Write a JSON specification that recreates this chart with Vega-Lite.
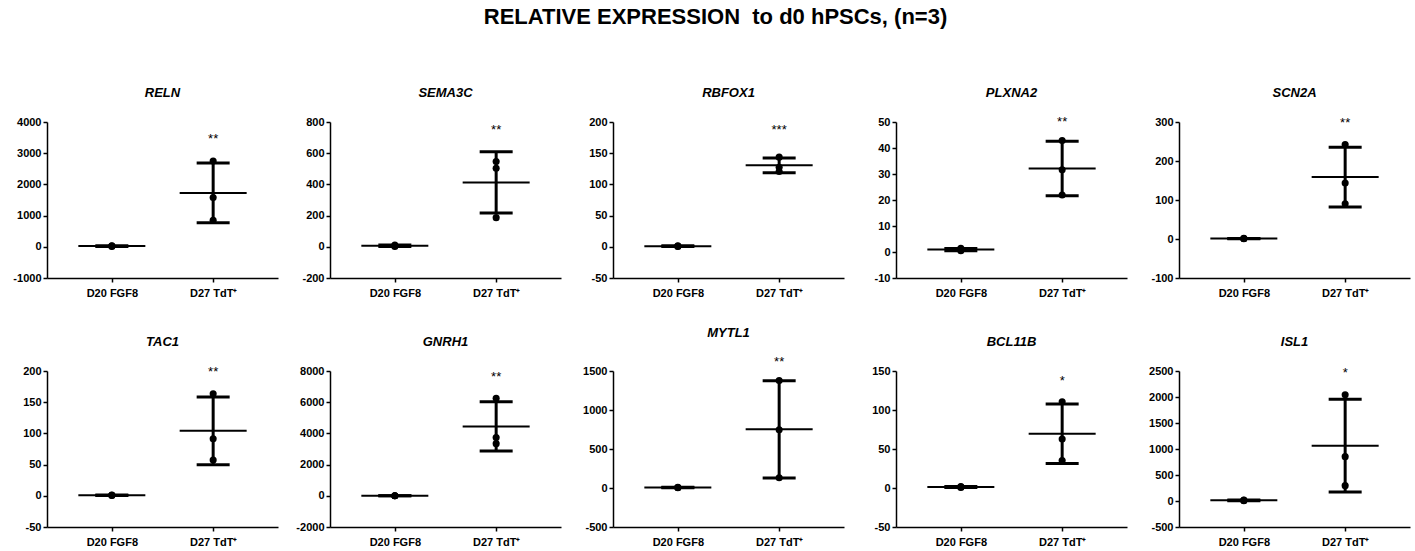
{
"$schema": "https://vega.github.io/schema/vega-lite/v6.json",
"padding": {"left": 9, "top": 6, "right": 5, "bottom": 5},
"title": {"text": "RELATIVE EXPRESSION\u00a0 to d0 hPSCs, (n=3)", "font": "Liberation Sans", "fontSize": 22, "fontStyle": "normal", "fontWeight": "bold", "color": "black", "offset": 58, "anchor": "middle", "dx": 6},
"datasets": {
"pts": [
{"gene": "RELN", "group": "D20 FGF8", "value": 10}, {"gene": "RELN", "group": "D20 FGF8", "value": 22}, {"gene": "RELN", "group": "D20 FGF8", "value": 35},
{"gene": "RELN", "group": "D27 TdT⁺", "value": 2750}, {"gene": "RELN", "group": "D27 TdT⁺", "value": 1580}, {"gene": "RELN", "group": "D27 TdT⁺", "value": 850},
{"gene": "SEMA3C", "group": "D20 FGF8", "value": 2}, {"gene": "SEMA3C", "group": "D20 FGF8", "value": 6}, {"gene": "SEMA3C", "group": "D20 FGF8", "value": 11},
{"gene": "SEMA3C", "group": "D27 TdT⁺", "value": 547}, {"gene": "SEMA3C", "group": "D27 TdT⁺", "value": 504}, {"gene": "SEMA3C", "group": "D27 TdT⁺", "value": 187},
{"gene": "RBFOX1", "group": "D20 FGF8", "value": 0.6}, {"gene": "RBFOX1", "group": "D20 FGF8", "value": 1.0}, {"gene": "RBFOX1", "group": "D20 FGF8", "value": 1.5},
{"gene": "RBFOX1", "group": "D27 TdT⁺", "value": 143.7}, {"gene": "RBFOX1", "group": "D27 TdT⁺", "value": 127.6}, {"gene": "RBFOX1", "group": "D27 TdT⁺", "value": 120.6},
{"gene": "PLXNA2", "group": "D20 FGF8", "value": 0.5}, {"gene": "PLXNA2", "group": "D20 FGF8", "value": 0.9}, {"gene": "PLXNA2", "group": "D20 FGF8", "value": 1.4},
{"gene": "PLXNA2", "group": "D27 TdT⁺", "value": 42.9}, {"gene": "PLXNA2", "group": "D27 TdT⁺", "value": 31.6}, {"gene": "PLXNA2", "group": "D27 TdT⁺", "value": 21.9},
{"gene": "SCN2A", "group": "D20 FGF8", "value": 0.7}, {"gene": "SCN2A", "group": "D20 FGF8", "value": 1.1}, {"gene": "SCN2A", "group": "D20 FGF8", "value": 1.6},
{"gene": "SCN2A", "group": "D27 TdT⁺", "value": 241.9}, {"gene": "SCN2A", "group": "D27 TdT⁺", "value": 143.6}, {"gene": "SCN2A", "group": "D27 TdT⁺", "value": 90.6},
{"gene": "TAC1", "group": "D20 FGF8", "value": 0.5}, {"gene": "TAC1", "group": "D20 FGF8", "value": 0.8}, {"gene": "TAC1", "group": "D20 FGF8", "value": 1.2},
{"gene": "TAC1", "group": "D27 TdT⁺", "value": 163.4}, {"gene": "TAC1", "group": "D27 TdT⁺", "value": 91.4}, {"gene": "TAC1", "group": "D27 TdT⁺", "value": 57.4},
{"gene": "GNRH1", "group": "D20 FGF8", "value": 0.8}, {"gene": "GNRH1", "group": "D20 FGF8", "value": 1.2}, {"gene": "GNRH1", "group": "D20 FGF8", "value": 1.9},
{"gene": "GNRH1", "group": "D27 TdT⁺", "value": 6251}, {"gene": "GNRH1", "group": "D27 TdT⁺", "value": 3738}, {"gene": "GNRH1", "group": "D27 TdT⁺", "value": 3344},
{"gene": "MYTL1", "group": "D20 FGF8", "value": 3}, {"gene": "MYTL1", "group": "D20 FGF8", "value": 6}, {"gene": "MYTL1", "group": "D20 FGF8", "value": 10},
{"gene": "MYTL1", "group": "D27 TdT⁺", "value": 1377}, {"gene": "MYTL1", "group": "D27 TdT⁺", "value": 746}, {"gene": "MYTL1", "group": "D27 TdT⁺", "value": 132},
{"gene": "BCL11B", "group": "D20 FGF8", "value": 0.8}, {"gene": "BCL11B", "group": "D20 FGF8", "value": 1.3}, {"gene": "BCL11B", "group": "D20 FGF8", "value": 2.0},
{"gene": "BCL11B", "group": "D27 TdT⁺", "value": 110.5}, {"gene": "BCL11B", "group": "D27 TdT⁺", "value": 62.7}, {"gene": "BCL11B", "group": "D27 TdT⁺", "value": 35.1},
{"gene": "ISL1", "group": "D20 FGF8", "value": 6}, {"gene": "ISL1", "group": "D20 FGF8", "value": 12}, {"gene": "ISL1", "group": "D20 FGF8", "value": 19},
{"gene": "ISL1", "group": "D27 TdT⁺", "value": 2041}, {"gene": "ISL1", "group": "D27 TdT⁺", "value": 853}, {"gene": "ISL1", "group": "D27 TdT⁺", "value": 295}
],
"stars": [
{"gene": "RELN", "group": "D27 TdT⁺", "label": "**", "y": 3460},
{"gene": "SEMA3C", "group": "D27 TdT⁺", "label": "**", "y": 746},
{"gene": "RBFOX1", "group": "D27 TdT⁺", "label": "***", "y": 187},
{"gene": "PLXNA2", "group": "D27 TdT⁺", "label": "**", "y": 50},
{"gene": "SCN2A", "group": "D27 TdT⁺", "label": "**", "y": 297},
{"gene": "TAC1", "group": "D27 TdT⁺", "label": "**", "y": 198},
{"gene": "GNRH1", "group": "D27 TdT⁺", "label": "**", "y": 7600},
{"gene": "MYTL1", "group": "D27 TdT⁺", "label": "**", "y": 1610},
{"gene": "BCL11B", "group": "D27 TdT⁺", "label": "*", "y": 137},
{"gene": "ISL1", "group": "D27 TdT⁺", "label": "*", "y": 2470}
]
},
"spacing": 29,
"vconcat": [
{"spacing": 14, "hconcat": [
{"title": "RELN", "width": 231, "height": 156, "data": {"name": "pts"}, "transform": [{"filter": "datum.gene === 'RELN'"}],
 "encoding": {"x": {"field": "group", "type": "nominal", "title": null, "scale": {"type": "point", "padding": 0.64, "domain": ["D20 FGF8", "D27 TdT⁺"]}}},
 "layer": [
  {"mark": {"type": "errorbar", "extent": "stdev", "color": "black", "opacity": 1, "rule": {"strokeWidth": 3}, "ticks": {"size": 33, "thickness": 3, "opacity": 1}}, "encoding": {"y": {"field": "value", "type": "quantitative", "title": null, "scale": {"domain": [-1000, 4000], "nice": false, "zero": false}, "axis": {"title": null, "tickCount": 12, "values": [-1000, 0, 1000, 2000, 3000, 4000], "format": "d"}}}},
  {"mark": {"type": "tick", "color": "black", "opacity": 1, "size": 67, "thickness": 2}, "encoding": {"y": {"aggregate": "mean", "field": "value", "type": "quantitative", "title": null}}},
  {"mark": {"type": "point", "filled": true, "color": "black", "opacity": 1, "size": 50}, "encoding": {"y": {"field": "value", "type": "quantitative", "title": null}}},
  {"data": {"name": "stars"}, "transform": [{"filter": "datum.gene === 'RELN'"}], "mark": {"type": "text", "fontSize": 13, "color": "black", "baseline": "middle"}, "encoding": {"y": {"field": "y", "type": "quantitative", "title": null}, "text": {"field": "label"}}}
 ]},
{"title": "SEMA3C", "width": 231, "height": 156, "data": {"name": "pts"}, "transform": [{"filter": "datum.gene === 'SEMA3C'"}],
 "encoding": {"x": {"field": "group", "type": "nominal", "title": null, "scale": {"type": "point", "padding": 0.64, "domain": ["D20 FGF8", "D27 TdT⁺"]}}},
 "layer": [
  {"mark": {"type": "errorbar", "extent": "stdev", "color": "black", "opacity": 1, "rule": {"strokeWidth": 3}, "ticks": {"size": 33, "thickness": 3, "opacity": 1}}, "encoding": {"y": {"field": "value", "type": "quantitative", "title": null, "scale": {"domain": [-200, 800], "nice": false, "zero": false}, "axis": {"title": null, "tickCount": 12, "values": [-200, 0, 200, 400, 600, 800], "format": "d"}}}},
  {"mark": {"type": "tick", "color": "black", "opacity": 1, "size": 67, "thickness": 2}, "encoding": {"y": {"aggregate": "mean", "field": "value", "type": "quantitative", "title": null}}},
  {"mark": {"type": "point", "filled": true, "color": "black", "opacity": 1, "size": 50}, "encoding": {"y": {"field": "value", "type": "quantitative", "title": null}}},
  {"data": {"name": "stars"}, "transform": [{"filter": "datum.gene === 'SEMA3C'"}], "mark": {"type": "text", "fontSize": 13, "color": "black", "baseline": "middle"}, "encoding": {"y": {"field": "y", "type": "quantitative", "title": null}, "text": {"field": "label"}}}
 ]},
{"title": "RBFOX1", "width": 231, "height": 156, "data": {"name": "pts"}, "transform": [{"filter": "datum.gene === 'RBFOX1'"}],
 "encoding": {"x": {"field": "group", "type": "nominal", "title": null, "scale": {"type": "point", "padding": 0.64, "domain": ["D20 FGF8", "D27 TdT⁺"]}}},
 "layer": [
  {"mark": {"type": "errorbar", "extent": "stdev", "color": "black", "opacity": 1, "rule": {"strokeWidth": 3}, "ticks": {"size": 33, "thickness": 3, "opacity": 1}}, "encoding": {"y": {"field": "value", "type": "quantitative", "title": null, "scale": {"domain": [-50, 200], "nice": false, "zero": false}, "axis": {"title": null, "tickCount": 12, "values": [-50, 0, 50, 100, 150, 200], "format": "d"}}}},
  {"mark": {"type": "tick", "color": "black", "opacity": 1, "size": 67, "thickness": 2}, "encoding": {"y": {"aggregate": "mean", "field": "value", "type": "quantitative", "title": null}}},
  {"mark": {"type": "point", "filled": true, "color": "black", "opacity": 1, "size": 50}, "encoding": {"y": {"field": "value", "type": "quantitative", "title": null}}},
  {"data": {"name": "stars"}, "transform": [{"filter": "datum.gene === 'RBFOX1'"}], "mark": {"type": "text", "fontSize": 13, "color": "black", "baseline": "middle"}, "encoding": {"y": {"field": "y", "type": "quantitative", "title": null}, "text": {"field": "label"}}}
 ]},
{"title": "PLXNA2", "width": 231, "height": 156, "data": {"name": "pts"}, "transform": [{"filter": "datum.gene === 'PLXNA2'"}],
 "encoding": {"x": {"field": "group", "type": "nominal", "title": null, "scale": {"type": "point", "padding": 0.64, "domain": ["D20 FGF8", "D27 TdT⁺"]}}},
 "layer": [
  {"mark": {"type": "errorbar", "extent": "stdev", "color": "black", "opacity": 1, "rule": {"strokeWidth": 3}, "ticks": {"size": 33, "thickness": 3, "opacity": 1}}, "encoding": {"y": {"field": "value", "type": "quantitative", "title": null, "scale": {"domain": [-10, 50], "nice": false, "zero": false}, "axis": {"title": null, "tickCount": 12, "values": [-10, 0, 10, 20, 30, 40, 50], "format": "d"}}}},
  {"mark": {"type": "tick", "color": "black", "opacity": 1, "size": 67, "thickness": 2}, "encoding": {"y": {"aggregate": "mean", "field": "value", "type": "quantitative", "title": null}}},
  {"mark": {"type": "point", "filled": true, "color": "black", "opacity": 1, "size": 50}, "encoding": {"y": {"field": "value", "type": "quantitative", "title": null}}},
  {"data": {"name": "stars"}, "transform": [{"filter": "datum.gene === 'PLXNA2'"}], "mark": {"type": "text", "fontSize": 13, "color": "black", "baseline": "middle"}, "encoding": {"y": {"field": "y", "type": "quantitative", "title": null}, "text": {"field": "label"}}}
 ]},
{"title": "SCN2A", "width": 231, "height": 156, "data": {"name": "pts"}, "transform": [{"filter": "datum.gene === 'SCN2A'"}],
 "encoding": {"x": {"field": "group", "type": "nominal", "title": null, "scale": {"type": "point", "padding": 0.64, "domain": ["D20 FGF8", "D27 TdT⁺"]}}},
 "layer": [
  {"mark": {"type": "errorbar", "extent": "stdev", "color": "black", "opacity": 1, "rule": {"strokeWidth": 3}, "ticks": {"size": 33, "thickness": 3, "opacity": 1}}, "encoding": {"y": {"field": "value", "type": "quantitative", "title": null, "scale": {"domain": [-100, 300], "nice": false, "zero": false}, "axis": {"title": null, "tickCount": 12, "values": [-100, 0, 100, 200, 300], "format": "d"}}}},
  {"mark": {"type": "tick", "color": "black", "opacity": 1, "size": 67, "thickness": 2}, "encoding": {"y": {"aggregate": "mean", "field": "value", "type": "quantitative", "title": null}}},
  {"mark": {"type": "point", "filled": true, "color": "black", "opacity": 1, "size": 50}, "encoding": {"y": {"field": "value", "type": "quantitative", "title": null}}},
  {"data": {"name": "stars"}, "transform": [{"filter": "datum.gene === 'SCN2A'"}], "mark": {"type": "text", "fontSize": 13, "color": "black", "baseline": "middle"}, "encoding": {"y": {"field": "y", "type": "quantitative", "title": null}, "text": {"field": "label"}}}
 ]}
]},
{"spacing": 14, "hconcat": [
{"title": "TAC1", "width": 231, "height": 156, "data": {"name": "pts"}, "transform": [{"filter": "datum.gene === 'TAC1'"}],
 "encoding": {"x": {"field": "group", "type": "nominal", "title": null, "scale": {"type": "point", "padding": 0.64, "domain": ["D20 FGF8", "D27 TdT⁺"]}}},
 "layer": [
  {"mark": {"type": "errorbar", "extent": "stdev", "color": "black", "opacity": 1, "rule": {"strokeWidth": 3}, "ticks": {"size": 33, "thickness": 3, "opacity": 1}}, "encoding": {"y": {"field": "value", "type": "quantitative", "title": null, "scale": {"domain": [-50, 200], "nice": false, "zero": false}, "axis": {"title": null, "tickCount": 12, "values": [-50, 0, 50, 100, 150, 200], "format": "d"}}}},
  {"mark": {"type": "tick", "color": "black", "opacity": 1, "size": 67, "thickness": 2}, "encoding": {"y": {"aggregate": "mean", "field": "value", "type": "quantitative", "title": null}}},
  {"mark": {"type": "point", "filled": true, "color": "black", "opacity": 1, "size": 50}, "encoding": {"y": {"field": "value", "type": "quantitative", "title": null}}},
  {"data": {"name": "stars"}, "transform": [{"filter": "datum.gene === 'TAC1'"}], "mark": {"type": "text", "fontSize": 13, "color": "black", "baseline": "middle"}, "encoding": {"y": {"field": "y", "type": "quantitative", "title": null}, "text": {"field": "label"}}}
 ]},
{"title": "GNRH1", "width": 231, "height": 156, "data": {"name": "pts"}, "transform": [{"filter": "datum.gene === 'GNRH1'"}],
 "encoding": {"x": {"field": "group", "type": "nominal", "title": null, "scale": {"type": "point", "padding": 0.64, "domain": ["D20 FGF8", "D27 TdT⁺"]}}},
 "layer": [
  {"mark": {"type": "errorbar", "extent": "stdev", "color": "black", "opacity": 1, "rule": {"strokeWidth": 3}, "ticks": {"size": 33, "thickness": 3, "opacity": 1}}, "encoding": {"y": {"field": "value", "type": "quantitative", "title": null, "scale": {"domain": [-2000, 8000], "nice": false, "zero": false}, "axis": {"title": null, "tickCount": 12, "values": [-2000, 0, 2000, 4000, 6000, 8000], "format": "d"}}}},
  {"mark": {"type": "tick", "color": "black", "opacity": 1, "size": 67, "thickness": 2}, "encoding": {"y": {"aggregate": "mean", "field": "value", "type": "quantitative", "title": null}}},
  {"mark": {"type": "point", "filled": true, "color": "black", "opacity": 1, "size": 50}, "encoding": {"y": {"field": "value", "type": "quantitative", "title": null}}},
  {"data": {"name": "stars"}, "transform": [{"filter": "datum.gene === 'GNRH1'"}], "mark": {"type": "text", "fontSize": 13, "color": "black", "baseline": "middle"}, "encoding": {"y": {"field": "y", "type": "quantitative", "title": null}, "text": {"field": "label"}}}
 ]},
{"title": "MYTL1", "width": 231, "height": 156, "data": {"name": "pts"}, "transform": [{"filter": "datum.gene === 'MYTL1'"}],
 "encoding": {"x": {"field": "group", "type": "nominal", "title": null, "scale": {"type": "point", "padding": 0.64, "domain": ["D20 FGF8", "D27 TdT⁺"]}}},
 "layer": [
  {"mark": {"type": "errorbar", "extent": "stdev", "color": "black", "opacity": 1, "rule": {"strokeWidth": 3}, "ticks": {"size": 33, "thickness": 3, "opacity": 1}}, "encoding": {"y": {"field": "value", "type": "quantitative", "title": null, "scale": {"domain": [-500, 1500], "nice": false, "zero": false}, "axis": {"title": null, "tickCount": 12, "values": [-500, 0, 500, 1000, 1500], "format": "d"}}}},
  {"mark": {"type": "tick", "color": "black", "opacity": 1, "size": 67, "thickness": 2}, "encoding": {"y": {"aggregate": "mean", "field": "value", "type": "quantitative", "title": null}}},
  {"mark": {"type": "point", "filled": true, "color": "black", "opacity": 1, "size": 50}, "encoding": {"y": {"field": "value", "type": "quantitative", "title": null}}},
  {"data": {"name": "stars"}, "transform": [{"filter": "datum.gene === 'MYTL1'"}], "mark": {"type": "text", "fontSize": 13, "color": "black", "baseline": "middle"}, "encoding": {"y": {"field": "y", "type": "quantitative", "title": null}, "text": {"field": "label"}}}
 ]},
{"title": "BCL11B", "width": 231, "height": 156, "data": {"name": "pts"}, "transform": [{"filter": "datum.gene === 'BCL11B'"}],
 "encoding": {"x": {"field": "group", "type": "nominal", "title": null, "scale": {"type": "point", "padding": 0.64, "domain": ["D20 FGF8", "D27 TdT⁺"]}}},
 "layer": [
  {"mark": {"type": "errorbar", "extent": "stdev", "color": "black", "opacity": 1, "rule": {"strokeWidth": 3}, "ticks": {"size": 33, "thickness": 3, "opacity": 1}}, "encoding": {"y": {"field": "value", "type": "quantitative", "title": null, "scale": {"domain": [-50, 150], "nice": false, "zero": false}, "axis": {"title": null, "tickCount": 12, "values": [-50, 0, 50, 100, 150], "format": "d"}}}},
  {"mark": {"type": "tick", "color": "black", "opacity": 1, "size": 67, "thickness": 2}, "encoding": {"y": {"aggregate": "mean", "field": "value", "type": "quantitative", "title": null}}},
  {"mark": {"type": "point", "filled": true, "color": "black", "opacity": 1, "size": 50}, "encoding": {"y": {"field": "value", "type": "quantitative", "title": null}}},
  {"data": {"name": "stars"}, "transform": [{"filter": "datum.gene === 'BCL11B'"}], "mark": {"type": "text", "fontSize": 13, "color": "black", "baseline": "middle"}, "encoding": {"y": {"field": "y", "type": "quantitative", "title": null}, "text": {"field": "label"}}}
 ]},
{"title": "ISL1", "width": 231, "height": 156, "data": {"name": "pts"}, "transform": [{"filter": "datum.gene === 'ISL1'"}],
 "encoding": {"x": {"field": "group", "type": "nominal", "title": null, "scale": {"type": "point", "padding": 0.64, "domain": ["D20 FGF8", "D27 TdT⁺"]}}},
 "layer": [
  {"mark": {"type": "errorbar", "extent": "stdev", "color": "black", "opacity": 1, "rule": {"strokeWidth": 3}, "ticks": {"size": 33, "thickness": 3, "opacity": 1}}, "encoding": {"y": {"field": "value", "type": "quantitative", "title": null, "scale": {"domain": [-500, 2500], "nice": false, "zero": false}, "axis": {"title": null, "tickCount": 12, "values": [-500, 0, 500, 1000, 1500, 2000, 2500], "format": "d"}}}},
  {"mark": {"type": "tick", "color": "black", "opacity": 1, "size": 67, "thickness": 2}, "encoding": {"y": {"aggregate": "mean", "field": "value", "type": "quantitative", "title": null}}},
  {"mark": {"type": "point", "filled": true, "color": "black", "opacity": 1, "size": 50}, "encoding": {"y": {"field": "value", "type": "quantitative", "title": null}}},
  {"data": {"name": "stars"}, "transform": [{"filter": "datum.gene === 'ISL1'"}], "mark": {"type": "text", "fontSize": 13, "color": "black", "baseline": "middle"}, "encoding": {"y": {"field": "y", "type": "quantitative", "title": null}, "text": {"field": "label"}}}
 ]}
]}
],
"config": {
 "view": {"stroke": null},
 "font": "Liberation Sans",
 "axis": {"grid": false, "labelOverlap": false, "domainColor": "black", "domainWidth": 1.5, "tickColor": "black", "tickWidth": 1.5, "tickSize": 4, "labelColor": "black", "labelFont": "Liberation Sans", "labelFontWeight": "bold", "labelFontSize": 11},
 "axisY": {"minExtent": 38, "maxExtent": 38, "labelPadding": 2, "labelExpr": "replace(datum.label, '\u2212', '-')"},
 "axisX": {"labelAngle": 0, "labelPadding": 5},
 "title": {"font": "Liberation Sans", "fontSize": 13, "fontStyle": "italic", "fontWeight": "bold", "color": "black", "offset": 16}
}
}
